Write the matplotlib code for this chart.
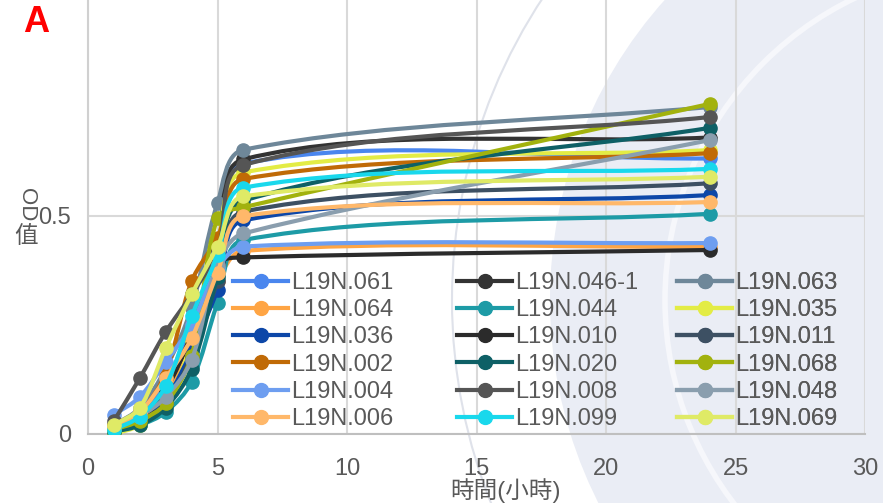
import numpy as np
import matplotlib.pyplot as plt
from matplotlib.path import Path
from matplotlib.patches import PathPatch, Ellipse
from matplotlib.lines import Line2D

plt.rcParams['font.family'] = ['Liberation Sans', 'Noto Sans CJK TC', 'DejaVu Sans']

# sampling times (hours)
hours = [1, 2, 3, 4, 5, 6, 24]

# series in Excel order (legend is filled row by row)
names = ['L19N.061', 'L19N.046-1', 'L19N.063',
         'L19N.064', 'L19N.044', 'L19N.035',
         'L19N.036', 'L19N.010', 'L19N.011',
         'L19N.002', 'L19N.020', 'L19N.068',
         'L19N.004', 'L19N.008', 'L19N.048',
         'L19N.006', 'L19N.099', 'L19N.069']

colors = ['#4a86ee', '#333333', '#6e8799',
          '#ffa544', '#1d9ba6', '#e3ec45',
          '#0d47a8', '#2b2b2b', '#3d5063',
          '#c06a06', '#0e6066', '#a2b20e',
          '#6e9ef0', '#555555', '#8a9eae',
          '#ffb86a', '#19d8ec', '#dfea66']

od_061 = [0.020, 0.050, 0.120, 0.250, 0.400, 0.620, 0.632]
od_046_1 = [0.010, 0.030, 0.090, 0.220, 0.400, 0.630, 0.680]
od_063 = [0.020, 0.060, 0.150, 0.290, 0.530, 0.652, 0.750]
od_064 = [0.010, 0.030, 0.090, 0.200, 0.350, 0.420, 0.430]
od_044 = [0.005, 0.020, 0.050, 0.120, 0.300, 0.445, 0.505]
od_035 = [0.000, 0.020, 0.070, 0.210, 0.440, 0.600, 0.651]
od_036 = [0.010, 0.030, 0.080, 0.190, 0.330, 0.490, 0.548]
od_010 = [0.010, 0.030, 0.100, 0.230, 0.390, 0.405, 0.422]
od_011 = [0.010, 0.030, 0.070, 0.180, 0.350, 0.510, 0.575]
od_002 = [0.020, 0.050, 0.140, 0.350, 0.450, 0.585, 0.644]
od_020 = [0.005, 0.020, 0.060, 0.150, 0.360, 0.535, 0.702]
od_068 = [0.010, 0.030, 0.070, 0.180, 0.495, 0.520, 0.757]
od_004 = [0.044, 0.085, 0.165, 0.250, 0.380, 0.430, 0.438]
od_008 = [0.030, 0.128, 0.234, 0.320, 0.420, 0.617, 0.727]
od_048 = [0.014, 0.040, 0.085, 0.170, 0.388, 0.460, 0.674]
od_006 = [0.015, 0.050, 0.128, 0.220, 0.370, 0.500, 0.532]
od_099 = [0.010, 0.040, 0.110, 0.270, 0.410, 0.565, 0.608]
od_069 = [0.020, 0.060, 0.197, 0.320, 0.430, 0.545, 0.590]

values = [od_061, od_046_1, od_063, od_064, od_044, od_035,
          od_036, od_010, od_011, od_002, od_020, od_068,
          od_004, od_008, od_048, od_006, od_099, od_069]

W, H = 883, 503
fig = plt.figure(figsize=(W / 100, H / 100), dpi=100)

# faint seal watermark in the background
fig.patches.append(Ellipse((1000 / W, 1 - 300 / H), 2 * 450 / W, 2 * 450 / H,
                           transform=fig.transFigure, facecolor='#eaedf5',
                           edgecolor='none', zorder=-3))
fig.patches.append(Ellipse((1000 / W, 1 - 300 / H), 2 * 335 / W, 2 * 335 / H,
                           transform=fig.transFigure, facecolor='none',
                           edgecolor='#f6f7fb', lw=4, zorder=-2))
fig.patches.append(Ellipse((1000 / W, 1 - 300 / H), 2 * 548 / W, 2 * 548 / H,
                           transform=fig.transFigure, facecolor='none',
                           edgecolor='#dfe2ea', lw=1.5, zorder=-2))

ax = fig.add_axes([88 / W, (H - 434) / H, 777 / W, 434 / H])
ax.set_facecolor('none')
ax.set_xlim(0, 30)
ax.set_ylim(0, 434 / 436)
ax.set_xticks(range(0, 31, 5))
ax.set_yticks([0, 0.5])
ax.set_yticklabels(['0', '0.5'])
ax.tick_params(length=0, labelsize=17, labelcolor='#595959')
ax.tick_params(axis='x', pad=17)
ax.tick_params(axis='y', pad=12)
ax.grid(True, color='#d9d9d9', lw=1.5)
ax.set_axisbelow(True)
for s in ['top', 'right']:
    ax.spines[s].set_visible(False)
ax.spines['left'].set_color('#d0d0d0')
ax.spines['left'].set_linewidth(1.5)
ax.spines['bottom'].set_color('#bfbfbf')
ax.spines['bottom'].set_linewidth(1.5)


def smooth_path(xs, ys):
    # Excel-like smoothed line: cubic Bezier through the points, in screen space
    pts = ax.transData.transform(np.column_stack([xs, ys]))
    n = len(pts)
    verts = [pts[0]]
    codes = [Path.MOVETO]
    for i in range(n - 1):
        p0 = pts[i - 1] if i > 0 else pts[i]
        p1 = pts[i]
        p2 = pts[i + 1]
        p3 = pts[i + 2] if i + 2 < n else pts[i + 1]
        d01 = np.hypot(*(p1 - p0))
        d12 = np.hypot(*(p2 - p1))
        d23 = np.hypot(*(p3 - p2))
        c1 = p1 + (p2 - p0) * d12 / (d01 + d12) / 3
        c2 = p2 - (p3 - p1) * d12 / (d12 + d23) / 3
        verts += [c1, c2, p2]
        codes += [Path.CURVE4] * 3
    verts = ax.transData.inverted().transform(np.array(verts))
    return Path(verts, codes)


handles = []
for k, (name, col, ys) in enumerate(zip(names, colors, values)):
    patch = PathPatch(smooth_path(hours, ys), fill=False, edgecolor=col,
                      lw=3, capstyle='round', joinstyle='round', zorder=3 + k)
    ax.add_patch(patch)
    ax.plot(hours, ys, 'o', color=col, ms=9.5, mec=col, zorder=3 + k)
    handles.append(Line2D([], [], color=col, lw=3, marker='o', ms=10))

# three legend columns, placed like the Excel legend
col_x = [233, 457, 677]
for c in range(3):
    leg = ax.legend(handles[c::3], names[c::3], loc='upper left',
                    bbox_to_anchor=(col_x[c] / W, 1 - 272 / H),
                    bbox_transform=fig.transFigure, frameon=False,
                    fontsize=17, labelcolor='#595959', handlelength=2.33,
                    handletextpad=0.15, labelspacing=0.22, borderpad=0,
                    borderaxespad=0)
    ax.add_artist(leg)

fig.text(506 / W, 1 - 491 / H, '時間(小時)', ha='center', va='center',
         fontsize=17, color='#595959')
fig.text(26 / W, 1 - 205 / H, 'OD', rotation=-90, ha='center', va='center',
         fontsize=16, color='#595959')
fig.text(26 / W, 1 - 237 / H, '值', ha='center', va='center',
         fontsize=17, color='#595959')
fig.text(36 / W, 1 - 22 / H, 'A', ha='center', va='center', fontsize=26,
         fontweight='bold', color='#ff0000')

fig.savefig('out.png', dpi=100)
